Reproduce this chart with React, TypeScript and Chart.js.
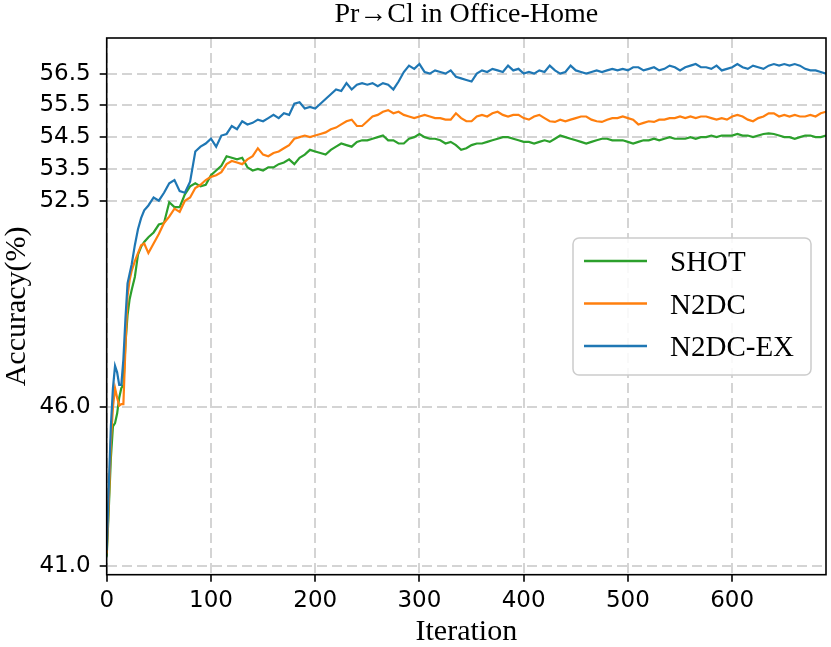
import { useEffect, useRef } from "react";
import { Chart, registerables } from "chart.js";
import type { Plugin } from "chart.js";

Chart.register(...registerables);

// iteration index of each sampled point
const iterations = [
  0, 2, 4, 6, 8, 10, 12, 14, 16, 18, 20, 22, 24, 27, 30, 33, 36, 40,
  45, 50, 55, 60, 65, 70, 75, 80, 85, 90,
  95, 100, 105, 110, 115, 120, 125, 130, 135, 140,
  145, 150, 155, 160, 165, 170, 175, 180, 185, 190,
  195, 200, 205, 210, 215, 220, 225, 230, 235, 240,
  245, 250, 255, 260, 265, 270, 275, 280, 285, 290,
  295, 300, 305, 310, 315, 320, 325, 330, 335, 340,
  345, 350, 355, 360, 365, 370, 375, 380, 385, 390,
  395, 400, 405, 410, 415, 420, 425, 430, 435, 440,
  445, 450, 455, 460, 465, 470, 475, 480, 485, 490,
  495, 500, 505, 510, 515, 520, 525, 530, 535, 540,
  545, 550, 555, 560, 565, 570, 575, 580, 585, 590,
  595, 600, 605, 610, 615, 620, 625, 630, 635, 640,
  645, 650, 655, 660, 665, 670, 675, 680, 685, 690,
];

const shot = [
  41.3, 42.8, 44.4, 45.4, 45.5, 45.8, 46.3, 46.6, 46.7, 48.0, 48.9, 49.4, 49.7, 50.1, 50.8, 51.05, 51.2, 51.35,
  51.5, 51.75, 51.8, 52.45, 52.3, 52.3, 52.7, 52.95, 53.05, 52.95,
  53.0, 53.3, 53.45, 53.6, 53.9, 53.85, 53.8, 53.85, 53.55, 53.45,
  53.5, 53.45, 53.55, 53.55, 53.65, 53.7, 53.8, 53.65, 53.85, 53.95,
  54.1, 54.05, 54.0, 53.95, 54.1, 54.2, 54.3, 54.25, 54.2, 54.35,
  54.4, 54.4, 54.45, 54.5, 54.55, 54.4, 54.4, 54.3, 54.3, 54.45,
  54.5, 54.6, 54.5, 54.45, 54.45, 54.4, 54.3, 54.35, 54.25, 54.1,
  54.15, 54.25, 54.3, 54.3, 54.35, 54.4, 54.45, 54.5, 54.5, 54.45,
  54.4, 54.35, 54.35, 54.3, 54.35, 54.4, 54.35, 54.45, 54.55, 54.5,
  54.45, 54.4, 54.35, 54.3, 54.35, 54.4, 54.45, 54.45, 54.4, 54.4,
  54.4, 54.35, 54.3, 54.35, 54.4, 54.4, 54.45, 54.4, 54.45, 54.5,
  54.45, 54.45, 54.45, 54.5, 54.45, 54.5, 54.5, 54.55, 54.5, 54.55,
  54.55, 54.55, 54.6, 54.55, 54.55, 54.5, 54.55, 54.6, 54.62, 54.6,
  54.55, 54.5, 54.5, 54.45, 54.5, 54.55, 54.55, 54.5, 54.5, 54.55,
];

const n2dc = [
  41.4, 43.0, 44.9, 46.0, 46.6, 46.3, 46.05, 46.1, 46.1, 47.9, 49.5, 50.0, 50.3, 50.6, 50.85, 51.1, 51.15, 50.85,
  51.15, 51.45, 51.8, 52.0, 52.25, 52.15, 52.5, 52.6, 52.9, 53.0,
  53.15, 53.25, 53.3, 53.4, 53.65, 53.75, 53.7, 53.65, 53.8, 53.9,
  54.15, 53.95, 53.9, 54.0, 54.05, 54.15, 54.25, 54.45, 54.5, 54.55,
  54.5, 54.55, 54.6, 54.65, 54.75, 54.8, 54.9, 55.0, 55.05, 54.85,
  54.85, 55.0, 55.15, 55.2, 55.3, 55.35, 55.25, 55.3, 55.2, 55.15,
  55.1, 55.15, 55.2, 55.15, 55.1, 55.1, 55.05, 55.05, 55.25, 55.1,
  55.0, 55.0, 55.15, 55.2, 55.15, 55.25, 55.3, 55.2, 55.15, 55.2,
  55.2, 55.1, 55.05, 55.15, 55.2, 55.1, 55.0, 54.98, 55.05, 55.0,
  55.05, 55.1, 55.15, 55.15, 55.05, 55.0, 54.98, 55.05, 55.1, 55.1,
  55.15, 55.1, 55.05, 54.9, 54.95, 55.0, 54.98, 55.05, 55.05, 55.1,
  55.1, 55.15, 55.1, 55.15, 55.1, 55.15, 55.15, 55.1, 55.05, 55.1,
  55.05, 55.15, 55.2, 55.15, 55.05, 55.0, 55.1, 55.15, 55.25, 55.25,
  55.15, 55.2, 55.15, 55.2, 55.15, 55.15, 55.2, 55.15, 55.25, 55.3,
];

const n2dcEx = [
  41.5, 43.5, 45.4, 46.6, 47.3, 47.1, 46.7, 46.7, 47.5, 48.8, 49.9, 50.2, 50.5, 51.1, 51.6, 51.95, 52.2, 52.35,
  52.6, 52.5, 52.75, 53.05, 53.15, 52.8, 52.75, 53.1, 54.05, 54.2,
  54.3, 54.45, 54.2, 54.55, 54.6, 54.85, 54.75, 55.0, 54.9, 54.95,
  55.05, 55.0, 55.1, 55.2, 55.1, 55.25, 55.2, 55.55, 55.6, 55.4,
  55.45, 55.4, 55.55, 55.7, 55.85, 56.0, 55.95, 56.2, 56.0, 56.15,
  56.2, 56.15, 56.2, 56.1, 56.2, 56.15, 56.0, 56.25, 56.55, 56.75,
  56.65, 56.8, 56.55, 56.5, 56.6, 56.55, 56.5, 56.6, 56.4, 56.35,
  56.3, 56.25, 56.5, 56.6, 56.55, 56.65, 56.6, 56.55, 56.75, 56.6,
  56.65, 56.5, 56.55, 56.5, 56.6, 56.55, 56.75, 56.6, 56.5, 56.55,
  56.75, 56.6, 56.55, 56.5, 56.55, 56.6, 56.55, 56.6, 56.65, 56.6,
  56.65, 56.6, 56.7, 56.7, 56.6, 56.65, 56.7, 56.6, 56.65, 56.75,
  56.7, 56.6, 56.7, 56.75, 56.8, 56.7, 56.7, 56.65, 56.75, 56.6,
  56.65, 56.7, 56.8, 56.7, 56.65, 56.75, 56.7, 56.65, 56.75, 56.8,
  56.75, 56.8, 56.75, 56.8, 56.75, 56.65, 56.6, 56.6, 56.55, 56.5,
];

const seriesNames = ["SHOT", "N2DC", "N2DC-EX"];
const seriesColors = ["#2ca02c", "#ff7f0e", "#1f77b4"];
const yTicks = [41.0, 46.0, 52.5, 53.5, 54.5, 55.5, 56.5];
const xTicks = [0, 100, 200, 300, 400, 500, 600];
const titleText = "Pr→Cl in Office-Home";

const SERIF = '"Liberation Serif", "Times New Roman", serif';
const SANS = '"DejaVu Sans", sans-serif';

// matplotlib-like box around the whole plot area
const framePlugin: Plugin<"line"> = {
  id: "frame",
  afterDatasetsDraw(chart) {
    const { ctx, chartArea: a } = chart;
    ctx.save();
    ctx.strokeStyle = "#000";
    ctx.lineWidth = 1.6;
    ctx.strokeRect(a.left, a.top, a.right - a.left, a.bottom - a.top);
    ctx.restore();
  },
};

// title centred over the plot area, not the canvas
const titlePlugin: Plugin<"line"> = {
  id: "plotTitle",
  afterDraw(chart) {
    const { ctx, chartArea: a } = chart;
    ctx.save();
    ctx.font = `28px ${SERIF}`;
    ctx.fillStyle = "#000";
    ctx.textAlign = "center";
    ctx.textBaseline = "alphabetic";
    ctx.fillText(titleText, (a.left + a.right) / 2, a.top - 16);
    ctx.restore();
  },
};

const legendPlugin: Plugin<"line"> = {
  id: "boxLegend",
  afterDraw(chart) {
    const { ctx, chartArea: a } = chart;
    const right = a.right - 15;
    const left = right - 238;
    const top = a.top + 200;
    const height = 137;
    ctx.save();
    ctx.beginPath();
    ctx.roundRect(left, top, right - left, height, 6);
    ctx.fillStyle = "rgba(255,255,255,0.85)";
    ctx.fill();
    ctx.strokeStyle = "#cccccc";
    ctx.lineWidth = 1.5;
    ctx.stroke();

    ctx.font = `29px ${SERIF}`;
    ctx.fillStyle = "#000";
    ctx.textBaseline = "alphabetic";
    seriesNames.forEach((name, i) => {
      const rowY = top + 23 + i * 42.5;
      ctx.beginPath();
      ctx.moveTo(left + 11, rowY);
      ctx.lineTo(left + 74, rowY);
      ctx.strokeStyle = seriesColors[i];
      ctx.lineWidth = 2.5;
      ctx.stroke();
      ctx.fillText(name, left + 97, rowY + 10);
    });
    ctx.restore();
  },
};

const gridStyle = {
  color: "#d4d4d4",
  lineWidth: 2,
  tickColor: "#000",
  tickLength: 7,
  tickWidth: 1.6,
  tickBorderDash: [],
};

export default function App() {
  const canvasRef = useRef<HTMLCanvasElement | null>(null);
  const chartRef = useRef<Chart<"line"> | null>(null);

  useEffect(() => {
    document.body.style.margin = "0";
    const canvas = canvasRef.current;
    if (!canvas) {
      return;
    }

    const series = [shot, n2dc, n2dcEx];

    chartRef.current?.destroy();
    chartRef.current = new Chart(canvas, {
      type: "line",
      data: {
        datasets: series.map((values, i) => ({
          label: seriesNames[i],
          data: values.map((v, j) => ({ x: iterations[j], y: v })),
          borderColor: seriesColors[i],
          backgroundColor: seriesColors[i],
          borderWidth: 2.2,
          pointRadius: 0,
          tension: 0,
          fill: false,
          order: series.length - 1 - i,
        })),
      },
      options: {
        responsive: false,
        animation: false,
        layout: { padding: { top: 38, right: 5, left: 0, bottom: 0 } },
        plugins: {
          legend: { display: false },
          title: { display: false },
          tooltip: { enabled: false },
        },
        scales: {
          x: {
            type: "linear",
            min: 0,
            max: 690,
            afterBuildTicks: (scale) => {
              scale.ticks = xTicks.map((v) => ({ value: v }));
            },
            afterFit: (scale) => {
              scale.height = 72.3;
            },
            grid: gridStyle,
            border: { display: false, dash: [10, 5] },
            ticks: {
              font: { family: SANS, size: 23 },
              color: "#000",
              padding: 6,
              maxRotation: 0,
              autoSkip: false,
            },
            title: {
              display: true,
              text: "Iteration",
              color: "#000",
              font: { family: SERIF, size: 30, lineHeight: 1 },
              padding: 0,
            },
          },
          y: {
            type: "linear",
            min: 40.73,
            max: 57.62,
            afterBuildTicks: (scale) => {
              scale.ticks = yTicks.map((v) => ({ value: v }));
            },
            afterFit: (scale) => {
              scale.width = 106.7;
            },
            grid: gridStyle,
            border: { display: false, dash: [10, 5] },
            ticks: {
              font: { family: SANS, size: 23 },
              color: "#000",
              padding: 9,
              autoSkip: false,
              callback: (value) => Number(value).toFixed(1),
            },
            title: {
              display: true,
              text: "Accuracy(%)",
              color: "#000",
              font: { family: SERIF, size: 30, lineHeight: 1 },
              padding: { top: 2, bottom: 0 },
            },
          },
        },
      },
      plugins: [framePlugin, titlePlugin, legendPlugin],
    });

    return () => {
      chartRef.current?.destroy();
      chartRef.current = null;
    };
  }, []);

  return (
    <canvas
      ref={canvasRef}
      width={831}
      height={647}
      style={{ display: "block", width: 831, height: 647 }}
    />
  );
}
